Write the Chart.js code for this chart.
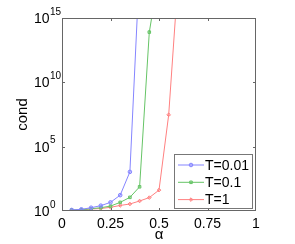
<!DOCTYPE html>
<html>
<head>
<meta charset="utf-8">
<script src="https://cdn.jsdelivr.net/npm/chart.js"></script>
<style>
  html, body { margin: 0; padding: 0; background: #fff; }
</style>
</head>
<body>
<canvas id="c" width="295" height="244"></canvas>
<script>
// values (condition number vs alpha, log axis)
const alphaT001 = [0.05, 0.1, 0.15, 0.2, 0.25, 0.3, 0.35, 0.4]
const condT001 = [1.2, 1.35, 1.8, 2.6, 4.7, 17, 1100, 1e19]
const alphaT01 = [0.05, 0.1, 0.15, 0.2, 0.25, 0.3, 0.35, 0.4, 0.45, 0.5]
const condT01 = [1.2, 1.26, 1.5, 1.8, 2.4, 4.7, 11.5, 76, 8e13, 3e18]
const alphaT1 = [0.05, 0.1, 0.15, 0.2, 0.25, 0.3, 0.35, 0.4, 0.45, 0.5, 0.55, 0.6]
const condT1 = [1.13, 1.2, 1.43, 1.56, 1.94, 2.7, 3.5, 6, 11, 42, 3e7, 2.5e18]
const seriesLabels = ['T=0.01', 'T=0.1', 'T=1']
const xTicks = [0, 0.25, 0.5, 0.75, 1]
const yTickExps = [0, 5, 10, 15]

const FONT = '"Liberation Sans", Arial, sans-serif'
const colors = { blue: '#8585ff', green: '#66c466', red: '#ff8080' }

const pts = (xs, ys) => xs.map((x, i) => ({ x, y: ys[i] }))

function dataset(label, xs, ys, color, style) {
  return {
    label, data: pts(xs, ys),
    borderColor: color, backgroundColor: color,
    borderWidth: 1, pointStyle: style, pointRadius: 1.8,
    pointBorderColor: color, pointBackgroundColor: color + '66',
    pointBorderWidth: 1, tension: 0
  }
}

// box, inward ticks, 10^n labels and the inset legend
const matlabAxes = {
  id: 'matlabAxes',
  afterDraw(chart) {
    const { ctx, chartArea: a, scales: { x, y } } = chart
    ctx.save()
    ctx.strokeStyle = '#666'
    ctx.lineWidth = 1
    ctx.strokeRect(a.left + 0.5, a.top + 0.5, a.right - a.left - 1, a.bottom - a.top - 1)
    ctx.beginPath()
    xTicks.slice(1, -1).forEach(v => {
      const px = Math.round(x.getPixelForValue(v)) + 0.5
      ctx.moveTo(px, a.bottom); ctx.lineTo(px, a.bottom - 3)
      ctx.moveTo(px, a.top); ctx.lineTo(px, a.top + 3)
    })
    yTickExps.slice(1, -1).forEach(e => {
      const py = Math.round(y.getPixelForValue(Math.pow(10, e))) + 0.5
      ctx.moveTo(a.left, py); ctx.lineTo(a.left + 3, py)
      ctx.moveTo(a.right, py); ctx.lineTo(a.right - 3, py)
    })
    ctx.stroke()

    ctx.fillStyle = '#000'
    ctx.textAlign = 'left'
    ctx.textBaseline = 'middle'
    yTickExps.forEach(e => {
      const py = y.getPixelForValue(Math.pow(10, e))
      ctx.font = '14px ' + FONT
      ctx.fillText('10', 34, py + 1)
      ctx.font = '10px ' + FONT
      ctx.fillText(String(e), 50, py - 6)
    })

    // legend
    const lw = 78, lh = 54
    const lx = a.right - 4 - lw, ly = a.bottom - 3 - lh
    ctx.fillStyle = '#fff'
    ctx.fillRect(lx, ly, lw, lh)
    ctx.strokeStyle = '#777'
    ctx.strokeRect(lx + 0.5, ly + 0.5, lw, lh)
    chart.data.datasets.forEach((ds, i) => {
      const ry = ly + 11 + i * 17.3
      ctx.strokeStyle = ds.borderColor
      ctx.beginPath()
      ctx.moveTo(lx + 4, ry); ctx.lineTo(lx + 30, ry)
      ctx.stroke()
      ctx.fillStyle = ds.pointBackgroundColor
      Chart.helpers.drawPoint(ctx, { pointStyle: ds.pointStyle, radius: 1.8, rotation: 0, borderWidth: 1 }, lx + 17, ry)
      ctx.fillStyle = '#000'
      ctx.font = '14px ' + FONT
      ctx.fillText(ds.label, lx + 31, ry + 1)
    })
    ctx.restore()
  }
}

new Chart(document.getElementById('c'), {
  type: 'line',
  data: {
    datasets: [
      dataset(seriesLabels[0], alphaT001, condT001, colors.blue, 'circle'),
      dataset(seriesLabels[1], alphaT01, condT01, colors.green, 'rect'),
      dataset(seriesLabels[2], alphaT1, condT1, colors.red, 'rectRot')
    ]
  },
  options: {
    responsive: false,
    animation: false,
    devicePixelRatio: 1,
    layout: { padding: { top: 18, right: 39, left: 0, bottom: 0 } },
    plugins: { legend: { display: false }, tooltip: { enabled: false } },
    scales: {
      x: {
        type: 'linear', min: 0, max: 1,
        afterFit: s => { s.height = 33 },
        afterBuildTicks: s => { s.ticks = xTicks.map(v => ({ value: v })) },
        grid: { display: false, drawTicks: false },
        border: { display: false },
        ticks: { color: '#000', font: { family: FONT, size: 14 }, padding: 5, maxRotation: 0, callback: v => String(v) },
        title: { display: true, text: 'α', color: '#000', font: { family: FONT, size: 15 }, padding: 0 }
      },
      y: {
        type: 'logarithmic', min: 1, max: 1e15,
        afterFit: s => { s.width = 62 },
        grid: { display: false, drawTicks: false },
        border: { display: false },
        ticks: { display: false },
        title: { display: true, text: 'cond', color: '#000', font: { family: FONT, size: 15 }, padding: { top: 14, bottom: 0 } }
      }
    }
  },
  plugins: [matlabAxes]
})
</script>
</body>
</html>
